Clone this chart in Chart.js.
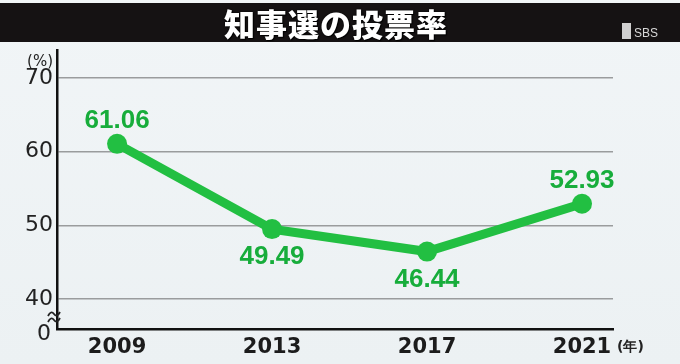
<!DOCTYPE html>
<html lang="ja">
<head>
<meta charset="utf-8">
<script src="https://cdn.jsdelivr.net/npm/chart.js@4.4.1/dist/chart.umd.min.js"></script>
<style>
    html, body {
        margin: 0;
        padding: 0;
        width: 680px;
        height: 364px;
        overflow: hidden;
        background: linear-gradient(180deg, #f1f5f7 0%, #ecf1f3 100%);
    }
    #wrap {
        position: relative;
        width: 680px;
        height: 364px;
    }
    #chart {
        position: absolute;
        left: 0;
        top: 0;
    }
    .title-bar {
        position: absolute;
        left: 0;
        top: 3px;
        width: 680px;
        height: 39px;
        background: #151213;
        z-index: 2;
    }
    .title-bar h1 {
        margin: 0;
        text-align: center;
        font-family: "Noto Sans CJK JP", sans-serif;
        font-weight: 900;
        font-size: 31px;
        line-height: 39px;
        color: #fff;
        letter-spacing: 1px;
        padding-right: 8px;
        text-shadow: 0 0 2px #000, 1px 1px 1px #000;
    }
    .logo {
        position: absolute;
        right: 22px;
        top: 20px;
        font-family: "Liberation Sans", sans-serif;
        font-size: 12px;
        color: #d8d8d8;
    }
    .logo i {
        display: inline-block;
        width: 9px;
        height: 16px;
        background: #d0d0d0;
        margin-right: 3px;
        vertical-align: -2px;
    }
</style>
</head>
<body>
<div id="wrap">
    <div class="title-bar">
        <h1>知事選の投票率</h1>
        <div class="logo"><i></i>SBS</div>
    </div>
    <canvas id="chart" width="680" height="364"></canvas>
</div>
<script>
const years = [2009, 2013, 2017, 2021];
const turnout = [61.06, 49.49, 46.44, 52.93];
const yTickValues = [35.93, 40, 50, 60, 70];
const labelSide = ["top", "bottom", "bottom", "top"];

const green = "#22bf42";
const labelGreen = "#17ad3b";

const extrasPlugin = {
    id: "extras",
    afterDatasetsDraw(chart) {
        const ctx = chart.ctx;
        const meta = chart.getDatasetMeta(0);
        ctx.save();
        ctx.font = "bold 26px 'Liberation Sans', Arial, sans-serif";
        ctx.fillStyle = labelGreen;
        ctx.textAlign = "center";
        ctx.textBaseline = "middle";
        meta.data.forEach((pt, i) => {
            const dy = labelSide[i] === "top" ? -23 : 28;
            ctx.fillText(turnout[i].toFixed(2), pt.x, pt.y + dy);
        });
        ctx.restore();
    },
    afterDraw(chart) {
        const ctx = chart.ctx;
        const area = chart.chartArea;
        ctx.save();
        ctx.fillStyle = "#222";
        ctx.font = "15px 'DejaVu Sans', sans-serif";
        ctx.textAlign = "right";
        ctx.textBaseline = "middle";
        ctx.fillText("(%)", area.left - 4, 62);
        ctx.font = "22px 'DejaVu Sans', sans-serif";
        ctx.fillText("0", area.left - 6, 334);
        ctx.textAlign = "left";
        ctx.font = "bold 14px 'DejaVu Sans', sans-serif";
        ctx.fillText("(年)", area.right + 4, 347);

        // axis break mark
        ctx.strokeStyle = "#222";
        ctx.lineWidth = 1.8;
        [-3, 3].forEach((off) => {
            ctx.beginPath();
            const cx = area.left - 3;
            const cy = 317 + off;
            ctx.moveTo(cx - 6, cy + 2);
            ctx.quadraticCurveTo(cx - 3, cy - 4, cx, cy);
            ctx.quadraticCurveTo(cx + 3, cy + 4, cx + 6, cy - 2);
            ctx.stroke();
        });
        ctx.restore();
    }
};

new Chart(document.getElementById("chart"), {
    type: "line",
    data: {
        datasets: [{
            data: years.map((y, i) => ({ x: y, y: turnout[i] })),
            borderColor: green,
            backgroundColor: green,
            borderWidth: 9,
            pointRadius: 10,
            pointHoverRadius: 10,
            pointBorderWidth: 0,
            tension: 0
        }]
    },
    options: {
        responsive: false,
        animation: false,
        layout: { padding: { top: 50, right: 67, left: 0, bottom: 0 } },
        plugins: {
            legend: { display: false },
            tooltip: { enabled: false }
        },
        scales: {
            x: {
                type: "linear",
                min: 2007.45,
                max: 2021.8,
                afterBuildTicks: (scale) => {
                    scale.ticks = years.map((v) => ({ value: v }));
                },
                afterFit: (scale) => { scale.height = 35; },
                grid: { display: false, drawTicks: false },
                border: { color: "#111", width: 2.5 },
                ticks: {
                    color: "#1c1c1c",
                    font: { family: "'DejaVu Sans', sans-serif", size: 21, weight: "bold" },
                    padding: 6,
                    callback: (v) => String(v)
                }
            },
            y: {
                min: 35.93,
                max: 73.8,
                afterBuildTicks: (scale) => {
                    scale.ticks = yTickValues.map((v) => ({ value: v }));
                },
                afterFit: (scale) => { scale.width = 57; },
                grid: {
                    drawTicks: false,
                    lineWidth: 1.5,
                    color: (c) => (c.tick && c.tick.value < 40 ? "rgba(0,0,0,0)" : "#9a9c9d")
                },
                border: { color: "#111", width: 2.5 },
                ticks: {
                    color: "#222",
                    font: { family: "'DejaVu Sans', sans-serif", size: 22 },
                    padding: 4,
                    callback: (v) => (v < 40 ? "" : String(v))
                }
            }
        }
    },
    plugins: [extrasPlugin]
});
</script>
</body>
</html>
